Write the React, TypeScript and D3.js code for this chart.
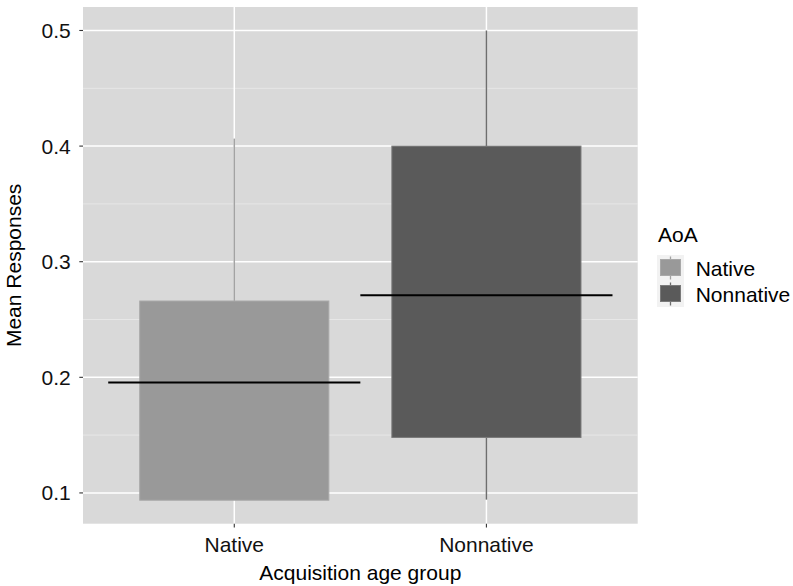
import * as d3 from "d3";
import React, { useEffect, useRef } from "react";

// data
const categories = ["Native", "Nonnative"];
const whiskerLow = [0.0937, 0.0942];
const boxLow = [0.0937, 0.148];
const boxHigh = [0.266, 0.4];
const whiskerHigh = [0.4065, 0.5];
const means = [0.1955, 0.271];
const yTicks = [0.1, 0.2, 0.3, 0.4, 0.5];
const yMinor = [0.15, 0.25, 0.35, 0.45];

const fills = ["#999999", "#5a5a5a"];
const edges = ["#a8a8a8", "#7a7a7a"];
const whiskerColors = ["#a3a3a3", "#6e6e6e"];

const App = () => {
  const ref = useRef<SVGSVGElement | null>(null);

  useEffect(() => {
    const width = 793;
    const height = 586;
    const margin = { top: 7, right: 155.3, bottom: 62.3, left: 83 };
    const font = "'Liberation Sans', Arial, sans-serif";
    const fontSize = 21;

    const svg = d3.select(ref.current);
    svg.selectAll("*").remove();

    // ggplot style expansion of the continuous axis
    const lo = d3.min(whiskerLow) as number;
    const hi = d3.max(whiskerHigh) as number;
    const pad = (hi - lo) * 0.05;

    const x = d3
      .scalePoint()
      .domain(categories)
      .range([margin.left, width - margin.right])
      .padding(0.6);
    const step = x.step();
    const y = d3
      .scaleLinear()
      .domain([lo - pad, hi + pad])
      .range([height - margin.bottom, margin.top]);

    // panel
    svg
      .append("rect")
      .attr("x", margin.left)
      .attr("y", margin.top)
      .attr("width", width - margin.left - margin.right)
      .attr("height", height - margin.top - margin.bottom)
      .attr("fill", "#d9d9d9");

    // grid
    svg
      .selectAll(".minor")
      .data(yMinor)
      .join("line")
      .attr("x1", margin.left)
      .attr("x2", width - margin.right)
      .attr("y1", (d) => y(d))
      .attr("y2", (d) => y(d))
      .attr("stroke", "#ebebeb")
      .attr("stroke-width", 0.8);
    svg
      .selectAll(".major")
      .data(yTicks)
      .join("line")
      .attr("x1", margin.left)
      .attr("x2", width - margin.right)
      .attr("y1", (d) => y(d))
      .attr("y2", (d) => y(d))
      .attr("stroke", "#ffffff")
      .attr("stroke-width", 1.5);
    svg
      .selectAll(".vgrid")
      .data(categories)
      .join("line")
      .attr("x1", (d) => x(d) as number)
      .attr("x2", (d) => x(d) as number)
      .attr("y1", margin.top)
      .attr("y2", height - margin.bottom)
      .attr("stroke", "#ffffff")
      .attr("stroke-width", 1.5);

    const idx = d3.range(categories.length);

    // whiskers
    idx.forEach((i) => {
      const cx = x(categories[i]) as number;
      [
        [whiskerLow[i], boxLow[i]],
        [boxHigh[i], whiskerHigh[i]],
      ].forEach(([a, b]) => {
        if (b - a <= 0) return;
        svg
          .append("line")
          .attr("x1", cx)
          .attr("x2", cx)
          .attr("y1", y(a))
          .attr("y2", y(b))
          .attr("stroke", whiskerColors[i])
          .attr("stroke-width", 1.5);
      });
    });

    // boxes
    svg
      .selectAll(".box")
      .data(idx)
      .join("rect")
      .attr("x", (i) => (x(categories[i]) as number) - step * 0.375)
      .attr("width", step * 0.75)
      .attr("y", (i) => y(boxHigh[i]))
      .attr("height", (i) => y(boxLow[i]) - y(boxHigh[i]))
      .attr("fill", (i) => fills[i])
      .attr("stroke", (i) => edges[i])
      .attr("stroke-width", 1);

    // mean lines
    svg
      .selectAll(".mean")
      .data(idx)
      .join("line")
      .attr("x1", (i) => (x(categories[i]) as number) - step * 0.5)
      .attr("x2", (i) => (x(categories[i]) as number) + step * 0.5)
      .attr("y1", (i) => y(means[i]))
      .attr("y2", (i) => y(means[i]))
      .attr("stroke", "#000000")
      .attr("stroke-width", 1.8);

    // y axis
    const yAxis = svg.append("g");
    yTicks.forEach((t) => {
      yAxis
        .append("line")
        .attr("x1", margin.left - 3.7)
        .attr("x2", margin.left)
        .attr("y1", y(t))
        .attr("y2", y(t))
        .attr("stroke", "#333333")
        .attr("stroke-width", 1.1);
      yAxis
        .append("text")
        .attr("x", margin.left - 12.3)
        .attr("y", y(t))
        .attr("dy", "0.36em")
        .attr("text-anchor", "end")
        .style("font-family", font)
        .style("font-size", `${fontSize}px`)
        .style("fill", "#111111")
        .text(d3.format(".1f")(t));
    });

    // x axis
    const xAxis = svg.append("g");
    categories.forEach((c) => {
      const cx = x(c) as number;
      xAxis
        .append("line")
        .attr("x1", cx)
        .attr("x2", cx)
        .attr("y1", height - margin.bottom)
        .attr("y2", height - margin.bottom + 3.7)
        .attr("stroke", "#333333")
        .attr("stroke-width", 1.1);
      xAxis
        .append("text")
        .attr("x", cx)
        .attr("y", 551.7)
        .attr("text-anchor", "middle")
        .style("font-family", font)
        .style("font-size", `${fontSize}px`)
        .style("fill", "#111111")
        .text(c);
    });

    // axis titles
    svg
      .append("text")
      .attr("x", (margin.left + width - margin.right) / 2)
      .attr("y", 579.5)
      .attr("text-anchor", "middle")
      .style("font-family", font)
      .style("font-size", `${fontSize}px`)
      .style("fill", "#000000")
      .text("Acquisition age group");
    svg
      .append("text")
      .attr("transform", `translate(20.5, ${(margin.top + height - margin.bottom) / 2}) rotate(-90)`)
      .attr("text-anchor", "middle")
      .style("font-family", font)
      .style("font-size", `${fontSize}px`)
      .style("fill", "#000000")
      .text("Mean Responses");

    // legend
    const legend = svg.append("g").attr("transform", "translate(657, 255)");
    legend
      .append("text")
      .attr("x", 1)
      .attr("y", -13)
      .style("font-family", font)
      .style("font-size", `${fontSize}px`)
      .style("fill", "#000000")
      .text("AoA");
    categories.forEach((c, i) => {
      const g = legend.append("g").attr("transform", `translate(0, ${i * 26})`);
      g.append("rect").attr("width", 27).attr("height", 26).attr("fill", "#f2f2f2");
      g.append("line")
        .attr("x1", 13.5)
        .attr("x2", 13.5)
        .attr("y1", 1.5)
        .attr("y2", 24.5)
        .attr("stroke", whiskerColors[i])
        .attr("stroke-width", 1.3);
      g.append("rect")
        .attr("x", 3.5)
        .attr("y", 4.5)
        .attr("width", 20)
        .attr("height", 16)
        .attr("fill", fills[i])
        .attr("stroke", edges[i])
        .attr("stroke-width", 1);
      g.append("text")
        .attr("x", 38.7)
        .attr("y", 13)
        .attr("dy", "0.36em")
        .style("font-family", font)
        .style("font-size", `${fontSize}px`)
        .style("fill", "#000000")
        .text(c);
    });
  }, []);

  return (
    <svg
      ref={ref}
      width={793}
      height={586}
      style={{ position: "absolute", left: 0, top: 0, background: "#ffffff" }}
    />
  );
};

export default App;
